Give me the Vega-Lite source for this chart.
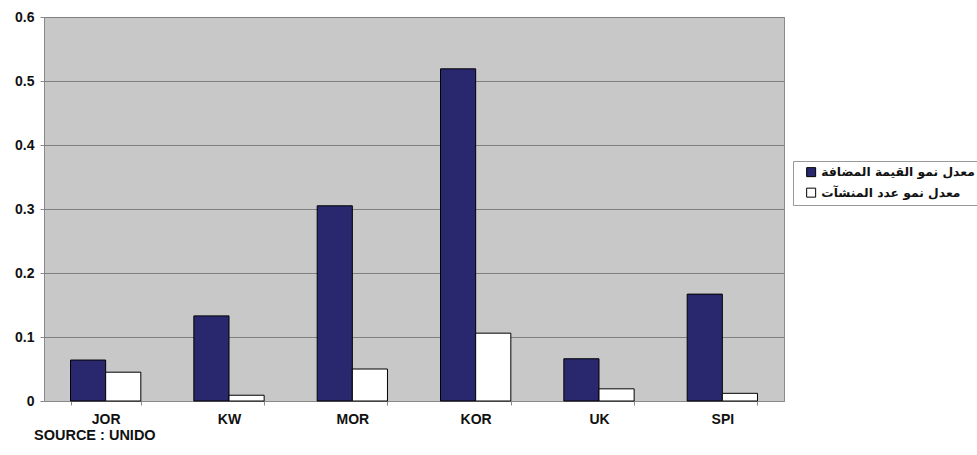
{
  "$schema": "https://vega.github.io/schema/vega-lite/v6.json",
  "width": 740,
  "height": 384,
  "autosize": "none",
  "padding": {"left": 44, "top": 17, "right": 193, "bottom": 54},
  "background": "white",
  "config": {
    "view": {"fill": "#c8c8c8", "stroke": "#8c8c8c", "strokeWidth": 1},
    "font": "Liberation Sans"
  },
  "title": {
    "text": "SOURCE : UNIDO",
    "orient": "bottom",
    "anchor": "start",
    "frame": "group",
    "font": "Liberation Sans",
    "fontSize": 14.5,
    "fontWeight": "bold",
    "color": "#111",
    "offset": 3,
    "dx": -10
  },
  "data": {
    "values": [
      {"country": "JOR", "series": "معدل نمو القيمة المضافة", "value": 0.064},
      {"country": "JOR", "series": "معدل نمو عدد المنشآت", "value": 0.045},
      {"country": "KW", "series": "معدل نمو القيمة المضافة", "value": 0.133},
      {"country": "KW", "series": "معدل نمو عدد المنشآت", "value": 0.009},
      {"country": "MOR", "series": "معدل نمو القيمة المضافة", "value": 0.305},
      {"country": "MOR", "series": "معدل نمو عدد المنشآت", "value": 0.050},
      {"country": "KOR", "series": "معدل نمو القيمة المضافة", "value": 0.519},
      {"country": "KOR", "series": "معدل نمو عدد المنشآت", "value": 0.106},
      {"country": "UK", "series": "معدل نمو القيمة المضافة", "value": 0.066},
      {"country": "UK", "series": "معدل نمو عدد المنشآت", "value": 0.019},
      {"country": "SPI", "series": "معدل نمو القيمة المضافة", "value": 0.167},
      {"country": "SPI", "series": "معدل نمو عدد المنشآت", "value": 0.012}
    ]
  },
  "mark": {"type": "bar", "stroke": "#000000", "strokeWidth": 1},
  "encoding": {
    "x": {
      "field": "country",
      "type": "nominal",
      "sort": ["JOR", "KW", "MOR", "KOR", "UK", "SPI"],
      "scale": {"paddingInner": 0.43, "paddingOuter": 0.215},
      "axis": {
        "title": null,
        "labelAngle": 0,
        "labelFont": "Liberation Sans",
        "labelFontWeight": "bold",
        "labelFontSize": 14,
        "labelColor": "#111",
        "labelPadding": 7,
        "tickBand": "extent",
        "tickSize": 4,
        "tickColor": "#888",
        "domainColor": "#888",
        "grid": false
      }
    },
    "xOffset": {
      "field": "series",
      "sort": ["معدل نمو القيمة المضافة", "معدل نمو عدد المنشآت"]
    },
    "y": {
      "field": "value",
      "type": "quantitative",
      "scale": {"domain": [0, 0.6], "nice": false},
      "axis": {
        "title": null,
        "values": [0, 0.1, 0.2, 0.3, 0.4, 0.5, 0.6],
        "format": ".1~f",
        "labelFont": "Liberation Sans",
        "labelFontWeight": "bold",
        "labelFontSize": 14,
        "labelColor": "#111",
        "labelPadding": 6,
        "tickSize": 4,
        "tickColor": "#888",
        "domainColor": "#888",
        "gridColor": "#808080",
        "gridWidth": 1
      }
    },
    "fill": {
      "field": "series",
      "type": "nominal",
      "sort": ["معدل نمو القيمة المضافة", "معدل نمو عدد المنشآت"],
      "scale": {"range": ["#29286f", "#ffffff"]},
      "legend": {
        "title": null,
        "orient": "none",
        "legendX": 749,
        "legendY": 144,
        "symbolType": "square",
        "symbolSize": 81,
        "symbolOffset": 7,
        "symbolStrokeColor": "#000",
        "symbolStrokeWidth": 1,
        "labelOffset": 4,
        "labelFont": "DejaVu Sans",
        "labelFontSize": 12.3,
        "labelFontWeight": "bold",
        "labelColor": "#111",
        "rowPadding": 6.5,
        "padding": 5,
        "strokeColor": "#999",
        "fillColor": "#ffffff"
      }
    }
  }
}
